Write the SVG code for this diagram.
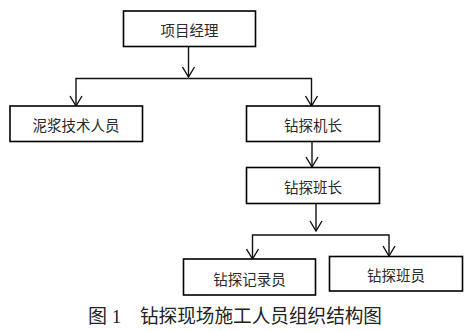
<svg xmlns="http://www.w3.org/2000/svg" width="472" height="331" viewBox="0 0 472 331">
<defs>
<style>
.box{fill:#fff;stroke:#000;stroke-width:1.6}
.lbl{font-family:"Noto Sans CJK SC","Noto Sans",sans-serif;font-size:14.5px;fill:#2a2a2a;text-anchor:middle;dominant-baseline:central}
.ln{fill:none;stroke:#111;stroke-width:1.4}
.cap{font-family:"Liberation Serif","Noto Sans CJK SC",serif;font-size:19px;fill:#222}
</style>
<marker id="ah" viewBox="0 0 14 12" refX="7" refY="11" markerWidth="14" markerHeight="12" markerUnits="userSpaceOnUse" orient="0">
<path d="M1,1 L7,11 L13,1" fill="none" stroke="#111" stroke-width="1.4"/>
</marker>
</defs>
<rect width="472" height="331" fill="#fff"/>
<g id="connectors">
<path class="ln" d="M188.5,47 V77" marker-end="url(#ah)"/>
<path class="ln" d="M188.5,78.5 H76 V106" marker-end="url(#ah)"/>
<path class="ln" d="M188.5,78.5 H311.5 V106" marker-end="url(#ah)"/>
<path class="ln" d="M312,141.5 V167" marker-end="url(#ah)"/>
<path class="ln" d="M316,203.5 V231" marker-end="url(#ah)"/>
<path class="ln" d="M316,235 H252.5 V259" marker-end="url(#ah)"/>
<path class="ln" d="M316,235 H389 V256" marker-end="url(#ah)"/>
</g>
<g id="n1"><rect class="box" x="123.5" y="11" width="132" height="35.5"/><text class="lbl" x="189.5" y="29">项目经理</text></g>
<g id="n2"><rect class="box" x="10" y="106" width="132.5" height="35.5"/><text class="lbl" x="76" y="124">泥浆技术人员</text></g>
<g id="n3"><rect class="box" x="246.5" y="106" width="133" height="35.5"/><text class="lbl" x="313" y="124">钻探机长</text></g>
<g id="n4"><rect class="box" x="246.5" y="167.5" width="133" height="36"/><text class="lbl" x="313" y="186">钻探班长</text></g>
<g id="n5"><rect class="box" x="183.5" y="259" width="132" height="36"/><text class="lbl" x="249.5" y="278">钻探记录员</text></g>
<g id="n6"><rect class="box" x="329.5" y="256.5" width="133" height="34.5"/><text class="lbl" x="396" y="274">钻探班员</text></g>
<text class="cap" x="88" y="323">图 1</text>
<text class="cap" x="140" y="323" textLength="242" lengthAdjust="spacingAndGlyphs">钻探现场施工人员组织结构图</text>
</svg>
